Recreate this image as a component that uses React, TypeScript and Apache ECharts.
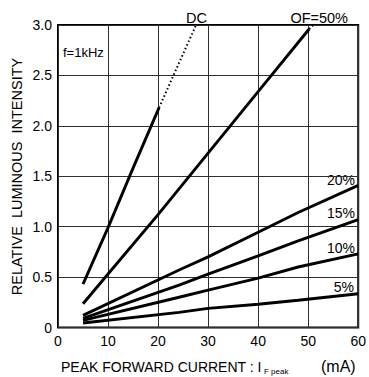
import React, { useEffect, useRef } from "react";
import * as echarts from "echarts";

// Peak forward current (mA) vs relative luminous intensity, per duty factor
const dcSolid = [[5, 0.43], [10, 0.99], [15, 1.58], [20.2, 2.18]];
const dcDotted = [[20.2, 2.18], [22.8, 2.47], [27.6, 3.0]];
const df50Solid = [[5, 0.235], [10, 0.53], [20, 1.12], [30, 1.73], [40, 2.34], [50.2, 2.96]];
const df50Dotted = [[50.2, 2.96], [51, 3.0]];
const df20 = [[5, 0.12], [24.2, 0.57], [30, 0.7], [40, 0.945], [48, 1.14], [60, 1.41]];
const df15 = [[5, 0.09], [24.2, 0.42], [30, 0.53], [40, 0.71], [48, 0.86], [60, 1.07]];
const df10 = [[5, 0.07], [24.2, 0.3], [30, 0.37], [40, 0.49], [48, 0.6], [60, 0.73]];
const df5 = [[5, 0.045], [24.2, 0.15], [30, 0.19], [40, 0.23], [48, 0.27], [60, 0.335]];

const xTicks = [0, 10, 20, 30, 40, 50, 60];
const yTickLabels = ["0", "0.5", "1.0", "1.5", "2.0", "2.5", "3.0"];

const FONT = "'Liberation Sans', Arial, Helvetica, sans-serif";

export default function App() {
  const ref = useRef<HTMLDivElement>(null);
  useEffect(() => {
    if (!ref.current) return;
    const chart = echarts.init(ref.current, undefined, { renderer: "svg" });
    const lineSeries = (data: number[][], dotted = false) => ({
      type: "line",
      data,
      showSymbol: false,
      silent: true,
      lineStyle: dotted
        ? { color: "#000", width: 2, type: [1.5, 2.5] }
        : { color: "#000", width: 2.9 },
    });
    const txt = (text: string, x: number, y: number, size: number, align = "left", extra: any = {}) => ({
      type: "text",
      x,
      y,
      ...extra,
      style: {
        text,
        fill: "#000",
        font: `${size}px ${FONT}`,
        align,
        verticalAlign: "middle",
      },
    });
    chart.setOption({
      animation: false,
      backgroundColor: "#fff",
      grid: {
        left: 58,
        right: 8,
        top: 25,
        bottom: 49.5,
        show: true,
        borderColor: "#000",
        borderWidth: 2,
      },
      xAxis: {
        type: "value",
        min: xTicks[0],
        max: xTicks[xTicks.length - 1],
        interval: 10,
        axisLine: { show: false },
        axisTick: { show: false },
        axisLabel: { color: "#000", fontSize: 14, fontFamily: FONT, margin: 6 },
        splitLine: { lineStyle: { color: "#2e2e2e", width: 1 } },
      },
      yAxis: {
        type: "value",
        min: 0,
        max: 3,
        interval: 0.5,
        axisLine: { show: false },
        axisTick: { show: false },
        axisLabel: {
          color: "#000",
          fontSize: 14,
          fontFamily: FONT,
          margin: 6,
          formatter: (v: number) => yTickLabels[Math.round(v / 0.5)],
        },
        splitLine: { lineStyle: { color: "#2e2e2e", width: 1 } },
      },
      series: [
        lineSeries(dcSolid),
        lineSeries(dcDotted, true),
        lineSeries(df50Solid),
        lineSeries(df50Dotted, true),
        lineSeries(df20),
        lineSeries(df15),
        lineSeries(df10),
        lineSeries(df5),
      ],
      graphic: [
        txt("DC", 186, 18, 14.5),
        txt("OF=50%", 348, 18, 14.5, "right"),
        txt("f=1kHz", 63, 52, 13),
        txt("20%", 355, 180, 14, "right"),
        txt("15%", 355, 213, 14, "right"),
        txt("10%", 355, 248, 14, "right"),
        txt("5%", 354, 287, 14, "right"),
        txt("RELATIVE  LUMINOUS  INTENSITY", 17, 176.5, 14.5, "center", { rotation: Math.PI / 2 }),
        txt("PEAK FORWARD CURRENT : I", 61, 367, 14),
        txt("F peak", 264, 371, 8),
        txt("(mA)", 321, 366, 16),
      ],
    });
    return () => chart.dispose();
  }, []);
  return (
    <div
      ref={ref}
      style={{ position: "fixed", left: 0, top: 0, width: 369, height: 377, background: "#fff" }}
    />
  );
}
